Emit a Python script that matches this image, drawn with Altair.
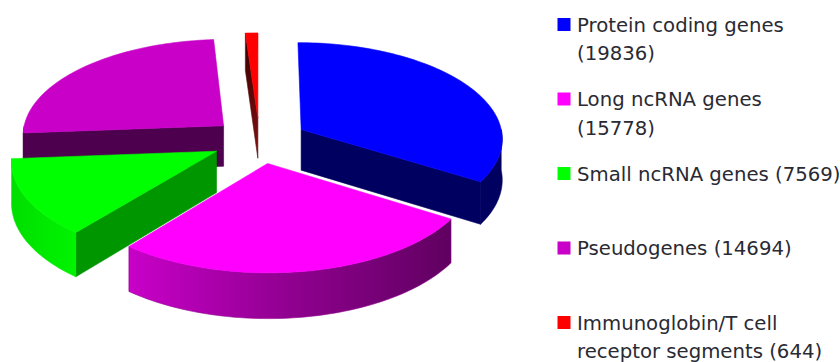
import math
import altair as alt
import pandas as pd

# Human gene counts by class
categories = ["Protein coding genes", "Long ncRNA genes", "Small ncRNA genes", "Pseudogenes",
              "Immunoglobin/T cell receptor segments"]
counts = [19836, 15778, 7569, 14694, 644]
top_colors = ["#0000FF", "#FF00FF", "#00FF00", "#C800C8", "#FF0000"]
legend_lines = [
    ["Protein coding genes", "(19836)"],
    ["Long ncRNA genes", "(15778)"],
    ["Small ncRNA genes (7569)"],
    ["Pseudogenes (14694)"],
    ["Immunoglobin/T cell", "receptor segments (644)"],
]

W, H = 840, 362

# Projection of the exploded pie: unit-circle plane to canvas units
CX, CY = 259.5, 140.5
RX, RY = 202, 96
PERSPECTIVE = 0.0844
DEPTH = 41
EXPLODE = 0.238


def project(a, b, z=0.0):
    w = 1 / (1 - PERSPECTIVE * b)
    return CX + a * RX * w, CY + (b * RY + z * DEPTH) * w


def spans(values):
    total = sum(values)
    start = 0.0
    for v in values:
        end = start + v / total * 360
        yield start, end
        start = end


def apex(t0, t1):
    mid = math.radians((t0 + t1) / 2)
    return EXPLODE * math.sin(mid), -EXPLODE * math.cos(mid)


def rim(t0, t1, ox, oy, step=1.5):
    n = max(2, int(abs(t1 - t0) / step))
    pts = []
    for i in range(n + 1):
        t = math.radians(t0 + (t1 - t0) * i / n)
        pts.append((ox + math.sin(t), oy - math.cos(t)))
    return pts


def top_poly(t0, t1):
    ox, oy = apex(t0, t1)
    return [project(ox, oy)] + [project(*p) for p in rim(t0, t1, ox, oy)]


def radial_wall(t, t0, t1):
    ox, oy = apex(t0, t1)
    a, b = rim(t, t, ox, oy)[0]
    return [project(ox, oy), project(a, b), project(a, b, 1), project(ox, oy, 1)]


def rim_wall(ta, tb, t0, t1):
    ox, oy = apex(t0, t1)
    arc = rim(ta, tb, ox, oy)
    return [project(*p) for p in arc] + [project(a, b, 1) for a, b in reversed(arc)]


def hgrad(*stops):
    return alt.Gradient(
        gradient="linear", x1=0, x2=1, y1=0, y2=0,
        stops=[alt.GradientStop(offset=o, color=c) for o, c in stops],
    )


def vgrad(*stops):
    return alt.Gradient(
        gradient="linear", x1=0, x2=0, y1=0, y2=1,
        stops=[alt.GradientStop(offset=o, color=c) for o, c in stops],
    )


x_enc = alt.X("x:Q", scale=alt.Scale(domain=[0, W], nice=False, zero=False), axis=None)
y_enc = alt.Y("y:Q", scale=alt.Scale(domain=[H, 0], nice=False, zero=False), axis=None)


def face(points, fill, edge):
    pts = list(points) + [points[0]]
    df = pd.DataFrame({"x": [p[0] for p in pts], "y": [p[1] for p in pts], "i": range(len(pts))})
    return alt.Chart(df).mark_line(fill=fill, stroke=edge, strokeWidth=0.6, clip=False).encode(
        x=x_enc, y=y_enc, order=alt.Order("i:Q")
    )


blue, pink, green, purple, red = list(spans(counts))
layers = []

# Painted back to front: pseudogenes, immunoglobin, protein coding, small ncRNA, long ncRNA
layers += [
    face(rim_wall(purple[0], 270, *purple), "#4D004D", "#4D004D"),
    face(radial_wall(purple[0], *purple), "#4D004D", "#4D004D"),
    face(top_poly(*purple), top_colors[3], top_colors[3]),
]
layers += [
    face(radial_wall(red[0], *red), vgrad((0, "#300000"), (1, "#8A1010")), "#501010"),
    face(top_poly(*red), top_colors[4], top_colors[4]),
]
layers += [
    face(rim_wall(90, blue[1], *blue), "#000060", "#000060"),
    face(radial_wall(blue[1], *blue), "#000060", "#000060"),
    face(top_poly(*blue), top_colors[0], top_colors[0]),
]
layers += [
    face(radial_wall(green[0], *green), "#009600", "#009600"),
    face(rim_wall(green[0], green[1], *green), hgrad((0, "#00DE00"), (1, "#00F400")), "#00E800"),
    face(top_poly(*green), top_colors[2], top_colors[2]),
]
layers += [
    face(rim_wall(pink[0], pink[1], *pink), hgrad((0, "#C800C8"), (0.5, "#900090"), (1, "#600060")), "#900090"),
    face(top_poly(*pink), top_colors[1], top_colors[1]),
]

# Legend: one swatch per class, rows evenly spaced, wrapped labels hanging from the swatch row
LEGEND_TOP, LEGEND_STEP, LINE_STEP = 24.5, 74.5, 28.5
LABEL_DROP = 1
SWATCH_X, LABEL_X = 564, 577
swatches = pd.DataFrame({
    "x": [SWATCH_X] * len(categories),
    "y": [LEGEND_TOP + r * LEGEND_STEP for r in range(len(categories))],
    "c": top_colors,
})
labels = pd.DataFrame([
    {"x": LABEL_X, "y": LEGEND_TOP + LABEL_DROP + r * LEGEND_STEP + k * LINE_STEP, "t": line}
    for r, lines in enumerate(legend_lines) for k, line in enumerate(lines)
])
layers.append(
    alt.Chart(swatches).mark_square(size=169, opacity=1, filled=True).encode(
        x=x_enc, y=y_enc, color=alt.Color("c:N", scale=None, legend=None)
    )
)
layers.append(
    alt.Chart(labels).mark_text(align="left", baseline="middle", font="DejaVu Sans", fontSize=19.7, color="#2A2A33").encode(
        x=x_enc, y=y_enc, text="t:N"
    )
)

chart = alt.layer(*layers).properties(
    width=W, height=H, padding=0, autosize=alt.AutoSizeParams(type="none"),
    background="#FFFFFF",
).configure_view(stroke=None)

chart.save("out.html", embed_options={"renderer": "svg", "actions": False})
